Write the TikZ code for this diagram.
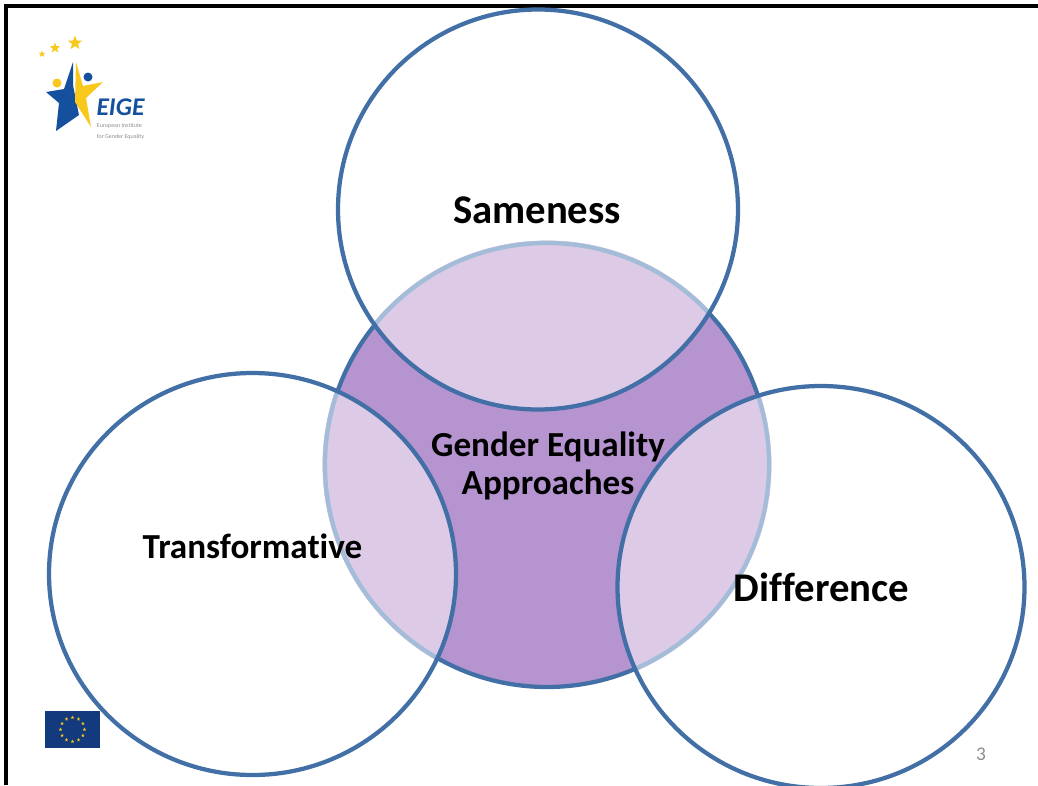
\documentclass[tikz,border=0pt]{standalone}
\usepackage{fontspec}
\setmainfont{Carlito}[Ligatures={NoCommon}]
\usepackage{tikz}
\usetikzlibrary{calc}
\usetikzlibrary{shapes.geometric}
\definecolor{ringblue}{HTML}{416FA6}
\definecolor{ringpale}{HTML}{A3BDD8}
\definecolor{darkviolet}{HTML}{B594D0}
\definecolor{paleviolet}{HTML}{DCCAE6}
\definecolor{eigeblue}{HTML}{14509E}
\definecolor{eigeyellow}{HTML}{F8C81C}
\definecolor{flagblue}{HTML}{123A7C}
\definecolor{labelgrey}{HTML}{8C8C8C}
\tikzset{
	ringline/.style={line width=0.085cm, draw=ringblue},
	palering/.style={line width=0.085cm, draw=ringpale},
	biglabel/.style={font=\bfseries\fontsize{23.2}{28}\selectfont, text=black, align=center},
	approachlabel/.style={font=\bfseries\fontsize{20}{21.6}\selectfont, text=black, align=center},
	goldstar/.style={star, star points=5, star point ratio=2.4, fill=eigeyellow, inner sep=0pt},
	flagstar/.style={star, star points=5, star point ratio=2.4, fill=eigeyellow, inner sep=0pt, minimum size=0.075cm},
}
\begin{document}
\begin{tikzpicture}[x=0.02cm, y=-0.02cm]
	
	% ------------------------------------------------
	% Ensure the dimensions of graphic are appropriate
	\useasboundingbox (0,0) rectangle (1038,785);
	
	% ------------------------------------------------
	% Relevant coordinates
	\coordinate (CentreC) at (547,465);
	\coordinate (TopC) at (538,209.5);
	\coordinate (LeftC) at (252.5,574);
	\coordinate (RightC) at (821,587);
	\coordinate (FlagC) at (72.5,729.5);
	
	\def\centrer{222}
	\def\topr{200}
	\def\sidex{203.5}
	\def\sidey{201}
	
	% ----------------
	% Slide frame
	\draw[line width=0.07cm, black] (6,785) -- (6,6) -- (1038,6);
	
	% ----------------
	% Purple discs
	\fill[darkviolet] (CentreC) circle (\centrer);
	\draw[ringline] (CentreC) circle (\centrer);
	
	\begin{scope}
		\clip (CentreC) circle (\centrer+2.5);
		\fill[paleviolet] (TopC) circle (\topr);
		\fill[paleviolet] (LeftC) ellipse [x radius=\sidex, y radius=\sidey];
		\fill[paleviolet] (RightC) ellipse [x radius=\sidex, y radius=\sidey];
		\begin{scope}
			\clip (TopC) circle (\topr);
			\draw[palering] (CentreC) circle (\centrer);
		\end{scope}
		\begin{scope}
			\clip (LeftC) ellipse [x radius=\sidex, y radius=\sidey];
			\draw[palering] (CentreC) circle (\centrer);
		\end{scope}
		\begin{scope}
			\clip (RightC) ellipse [x radius=\sidex, y radius=\sidey];
			\draw[palering] (CentreC) circle (\centrer);
		\end{scope}
	\end{scope}
	
	% ----------------
	% Outer rings
	\draw[ringline] (TopC) circle (\topr);
	\draw[ringline] (LeftC) ellipse [x radius=\sidex, y radius=\sidey];
	\draw[ringline] (RightC) ellipse [x radius=\sidex, y radius=\sidey];
	
	% ----------------
	% Labels
	\node[biglabel] (Sameness) at (537,210) {Sameness};
	\node[approachlabel] (Approaches) at (548,466) {Gender Equality\\Approaches};
	\node[approachlabel] (Transformative) at (252.5,546) {Transformative};
	\node[biglabel] (Difference) at (821.5,587) {Difference};
	\node[text=labelgrey, font=\fontsize{11}{13}\selectfont] (PageNo) at (981,754) {3};
	
	% ----------------
	% Logo
	\fill[eigeblue] (73,62) -- (64,89) -- (46,92) -- (59,103) -- (56,131) -- (79,115) -- (73,85) -- cycle;
	\fill[eigeyellow] (76,62) -- (83,86) -- (103,82) -- (86,98) -- (91,127) -- (75,102) -- cycle;
	\fill[eigeyellow] (57,83) circle (4.5);
	\fill[eigeblue] (88,77) circle (4.5);
	\node[goldstar, minimum size=0.3cm] (StarA) at (75,43) {};
	\node[goldstar, minimum size=0.22cm] (StarB) at (55,48) {};
	\node[goldstar, minimum size=0.14cm] (StarC) at (42,54) {};
	\node[text=eigeblue, font=\bfseries\itshape\fontsize{14.5}{15}\selectfont, inner sep=0pt] (EigeName) at (120.5,107) {EIGE};
	\node[text=labelgrey, font=\fontsize{3.4}{6}\selectfont, align=left, inner sep=0pt] (EigeText) at (120.5,131.5) {European Institute\\for Gender Equality};
	
	% ----------------
	% Flag
	\node[fill=flagblue, minimum width=1.1cm, minimum height=0.74cm, inner sep=0pt] (Flag) at (FlagC) {};
	\foreach \ang in {0,30,...,330}
		\node[flagstar] at ($(FlagC)+(\ang:12)$) {};
	
\end{tikzpicture}
\end{document}
